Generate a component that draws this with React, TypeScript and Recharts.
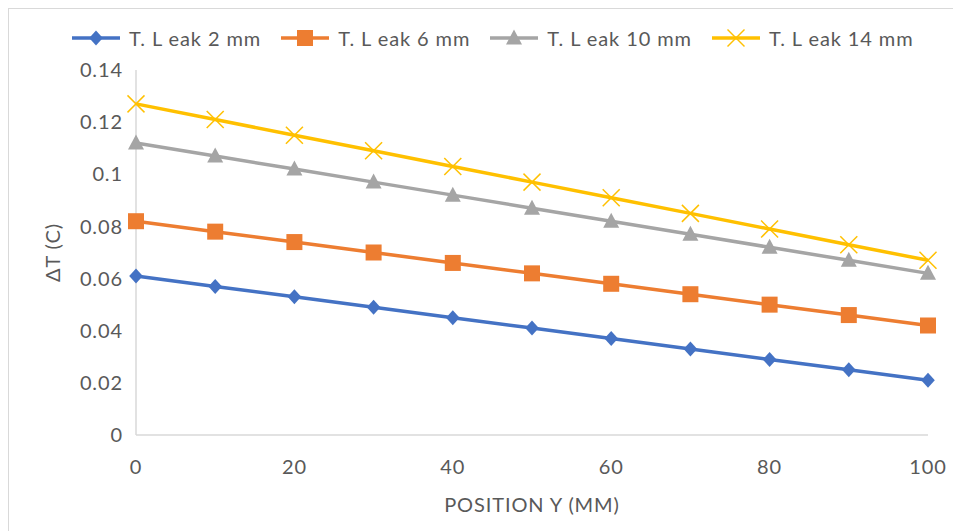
import React from 'react'
import {
  LineChart,
  Line,
  XAxis,
  YAxis,
  Legend,
  Label,
} from 'recharts'

// position along Y (mm)
const positions = [0, 10, 20, 30, 40, 50, 60, 70, 80, 90, 100]
const leak2 = [0.061, 0.057, 0.053, 0.049, 0.045, 0.041, 0.037, 0.033, 0.029, 0.025, 0.021]
const leak6 = [0.082, 0.078, 0.074, 0.07, 0.066, 0.062, 0.058, 0.054, 0.05, 0.046, 0.042]
const leak10 = [0.112, 0.107, 0.102, 0.097, 0.092, 0.087, 0.082, 0.077, 0.072, 0.067, 0.062]
const leak14 = [0.127, 0.121, 0.115, 0.109, 0.103, 0.097, 0.091, 0.085, 0.079, 0.073, 0.067]

const xTicks = [0, 20, 40, 60, 80, 100]
const yTicks = [0, 0.02, 0.04, 0.06, 0.08, 0.1, 0.12, 0.14]

const data = positions.map((p, i) => ({
  pos: p,
  leak2: leak2[i],
  leak6: leak6[i],
  leak10: leak10[i],
  leak14: leak14[i],
}))

const FONT = 'Lato, "Open Sans", sans-serif'
const TEXT = '#595959'
const AXIS = '#d9d9d9'
const fontStyle = { fill: TEXT, fontSize: 20, fontFamily: FONT, letterSpacing: 0.9 }

type Marker = 'diamond' | 'square' | 'triangle' | 'cross'

function MarkerShape({ kind, cx, cy, color }: { kind: Marker; cx: number; cy: number; color: string }) {
  if (kind === 'diamond') {
    return <path d={`M${cx},${cy - 7.5}L${cx + 6.8},${cy}L${cx},${cy + 7.5}L${cx - 6.8},${cy}Z`} fill={color} />
  }
  if (kind === 'square') {
    const r = 8
    return <rect x={cx - r} y={cy - r} width={r * 2} height={r * 2} fill={color} />
  }
  if (kind === 'triangle') {
    return <path d={`M${cx},${cy - 8.5}L${cx + 8},${cy + 6.5}L${cx - 8},${cy + 6.5}Z`} fill={color} />
  }
  const r = 8.5
  return (
    <g stroke={color} strokeWidth={1.5}>
      <line x1={cx - r} y1={cy - r} x2={cx + r} y2={cy + r} />
      <line x1={cx - r} y1={cy + r} x2={cx + r} y2={cy - r} />
    </g>
  )
}

const series = [
  { key: 'leak2', name: 'T. L eak 2 mm', color: '#4472C4', marker: 'diamond' as Marker },
  { key: 'leak6', name: 'T. L eak 6 mm', color: '#ED7D31', marker: 'square' as Marker },
  { key: 'leak10', name: 'T. L eak 10 mm', color: '#A5A5A5', marker: 'triangle' as Marker },
  { key: 'leak14', name: 'T. L eak 14 mm', color: '#FFC000', marker: 'cross' as Marker },
]

function LegendRow() {
  return (
    <div style={{ height: 61, paddingTop: 17, paddingLeft: 63, boxSizing: 'border-box', display: 'flex', fontFamily: FONT, fontSize: 20, letterSpacing: 0.9, color: TEXT }}>
      {series.map((s) => (
        <div key={s.key} style={{ display: 'flex', alignItems: 'center', height: 24, marginRight: 20 }}>
          <svg width={48} height={20} style={{ marginRight: 9 }}>
            <line x1={0} y1={10} x2={48} y2={10} stroke={s.color} strokeWidth={3.5} />
            <MarkerShape kind={s.marker} cx={24} cy={10} color={s.color} />
          </svg>
          <span>{s.name}</span>
        </div>
      ))}
    </div>
  )
}

export default function App() {
  return (
    <div style={{ width: 953, height: 523, borderTop: `1px solid ${AXIS}`, borderLeft: `1px solid ${AXIS}`, boxSizing: 'border-box', background: '#fff' }}>
      <LineChart width={952} height={522} data={data} margin={{ top: 0, right: 33, bottom: 16, left: 30 }}>
        <Legend verticalAlign="top" content={() => <LegendRow />} wrapperStyle={{ left: 0, width: 952 }} />
        <XAxis
          dataKey="pos"
          type="number"
          domain={[0, 100]}
          ticks={xTicks}
          height={80}
          tickLine={false}
          tickMargin={19}
          axisLine={{ stroke: AXIS, strokeWidth: 1.5 }}
          tick={fontStyle}
        >
          <Label value="POSITION Y (MM)" position="insideBottom" offset={3} style={fontStyle} />
        </XAxis>
        <YAxis
          type="number"
          domain={[0, 0.14]}
          ticks={yTicks}
          width={97}
          tickLine={false}
          tickMargin={7}
          axisLine={{ stroke: AXIS, strokeWidth: 1.5 }}
          tick={fontStyle}
        >
          <Label value="ΔT (C)" angle={-90} position="insideLeft" offset={14} textAnchor="middle" style={{ ...fontStyle, textAnchor: 'middle' }} />
        </YAxis>
        {series.map((s) => (
          <Line
            key={s.key}
            type="linear"
            dataKey={s.key}
            name={s.name}
            stroke={s.color}
            strokeWidth={3.5}
            isAnimationActive={false}
            dot={(p: any) => <MarkerShape key={`${s.key}-${p.index}`} kind={s.marker} cx={p.cx} cy={p.cy} color={s.color} />}
            activeDot={false}
          />
        ))}
      </LineChart>
    </div>
  )
}
